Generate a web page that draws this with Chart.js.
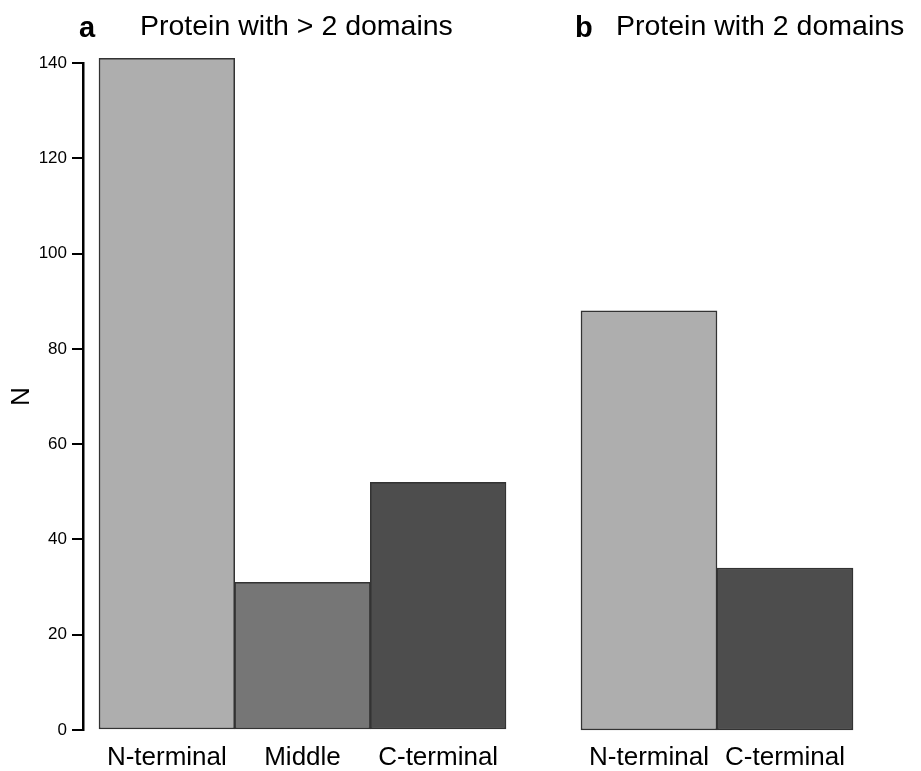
<!DOCTYPE html>
<html>
<head>
<meta charset="utf-8">
<script src="https://cdn.jsdelivr.net/npm/chart.js@4/dist/chart.umd.min.js"></script>
<style>
  html, body { margin: 0; padding: 0; background: #fff; }
  #wrap { position: relative; width: 921px; height: 771px; overflow: hidden; font-family: "Liberation Sans", Arial, Helvetica, sans-serif; color: #000; }
  .panel { position: absolute; top: 0; height: 771px; }
  #pa { left: 0; width: 540px; }
  #pb { left: 540px; width: 381px; }
  .lbl { position: absolute; font-weight: bold; font-size: 29px; line-height: 29px; white-space: nowrap; }
  .ttl { position: absolute; font-size: 28.5px; line-height: 28.5px; white-space: nowrap; }
</style>
</head>
<body>
<div id="wrap">
  <div class="panel" id="pa"><canvas id="chart-a"></canvas></div>
  <div class="panel" id="pb"><canvas id="chart-b"></canvas></div>
  <span class="lbl" style="left:79px; top:13px;">a</span>
  <span class="ttl" style="left:140px; top:11px;">Protein with &gt; 2 domains</span>
  <span class="lbl" style="left:575px; top:13px;">b</span>
  <span class="ttl" style="left:616px; top:11px;">Protein with 2 domains</span>
</div>
<script>
// ── Datos ─────────────────────────────────────────────────────────────────────
const catsA   = ['N-terminal', 'Middle', 'C-terminal'];
const valsA   = [141, 31, 52];
const catsB   = ['N-terminal', 'C-terminal'];
const valsB   = [88, 34];
const yTicks  = [0, 20, 40, 60, 80, 100, 120, 140];
const colsA   = ['#aeaeae', '#767676', '#4d4d4d'];
const colsB   = ['#aeaeae', '#4d4d4d'];

const FONT = '"Liberation Sans", Arial, Helvetica, sans-serif';
Chart.defaults.font.family = FONT;
Chart.defaults.color = '#000';

function xScale(cats, min, max) {
  return {
    type: 'linear', min, max, offset: false,
    grid: { display: false, offset: false }, border: { display: false },
    afterBuildTicks: s => { s.ticks = cats.map((_, i) => ({ value: i })); },
    afterFit: s => { s.height = 41; },
    ticks: {
      autoSkip: false, maxRotation: 0, padding: 4,
      font: { size: 26 }, color: '#000',
      callback: v => cats[v] ?? '',
    },
  };
}

function yScale(show) {
  return {
    min: 0, max: 140, display: show,
    afterBuildTicks: s => { s.ticks = yTicks.map(v => ({ value: v })); },
    afterFit: s => { if (show) s.width = 83; },
    grid: { display: true, drawOnChartArea: false, drawTicks: true, tickLength: 11, color: '#000', lineWidth: 2 },
    border: { display: true, color: '#000', width: 2.5 },
    ticks: { font: { size: 17 }, color: '#000', padding: 5 },
    title: { display: true, text: 'N', font: { size: 26 }, color: '#000', padding: { top: 6, bottom: 0 } },
  };
}

function makeChart(id, cats, vals, cols, xmin, xmax, pad, showY) {
  return new Chart(document.getElementById(id), {
    type: 'bar',
    data: {
      datasets: [{
        data: vals.map((v, i) => ({ x: i, y: v })),
        backgroundColor: cols,
        borderColor: '#333',
        borderWidth: 1.5,
        borderSkipped: false,
        barPercentage: 1,
        categoryPercentage: 1,
        clip: false, // la barra de 141 sobresale del eje (máx. 140)
      }],
    },
    options: {
      responsive: true,
      maintainAspectRatio: false,
      animation: false,
      layout: { padding: pad },
      plugins: { legend: { display: false }, tooltip: { enabled: false } },
      scales: { x: xScale(cats, xmin, xmax), y: yScale(showY) },
    },
  });
}

// panel a: eje en x=83, barras de 99 a 506
makeChart('chart-a', catsA, valsA, colsA, -0.618, 2.5, { top: 63, right: 34, left: 0, bottom: 0 }, true);
// panel b: barras de 581 a 853 (sin eje y)
makeChart('chart-b', catsB, valsB, colsB, -0.5, 1.5, { top: 63, right: 68, left: 41, bottom: 0 }, false);
</script>
</body>
</html>
